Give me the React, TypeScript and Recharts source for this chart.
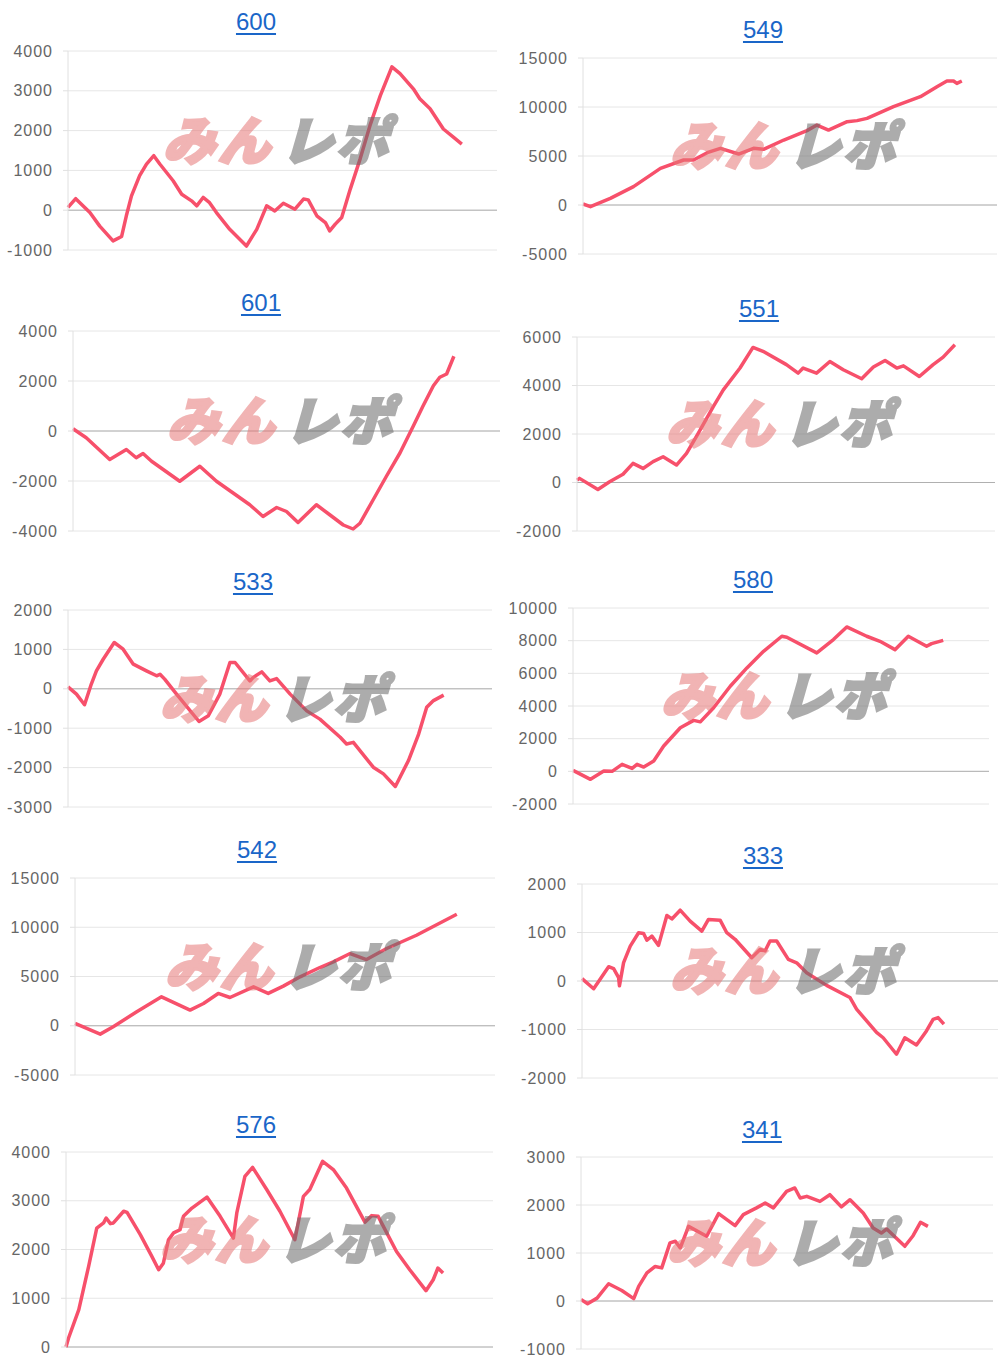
import React from 'react';
import { LineChart, Line, XAxis, YAxis, CartesianGrid, ReferenceLine } from 'recharts';

// ---- titles ----
const titles = ['600', '549', '601', '551', '533', '580', '542', '333', '576', '341'];

// ---- series (x = progress % of axis width, y = value) ----
const x600 = [0, 1.8, 5.1, 7.4, 10.5, 12.5, 13.6, 14.8, 16.7, 18.3, 20, 21.4, 24.5, 26.5, 28.8, 30, 31.5, 33, 34.6, 37.7, 41.6, 44, 46.3, 48.2, 50.2, 52.9, 54.9, 56, 58, 60, 61, 62.3, 63.8, 65.8, 68.1, 70.4, 72.8, 75.5, 77.4, 80.5, 82, 84.4, 87.5, 89.9, 91.8];
const y600 = [70, 290, -60, -400, -770, -660, -140, 360, 870, 1160, 1370, 1160, 740, 400, 235, 110, 320, 190, -60, -480, -900, -480, 110, -20, 175, 25, 280, 260, -140, -310, -520, -350, -185, 530, 1290, 2130, 2880, 3600, 3430, 3050, 2800, 2550, 2040, 1830, 1660];

const x549 = [0, 1.8, 6.6, 12.2, 18.7, 24.3, 26.7, 30, 33.2, 37.6, 41.2, 43.6, 48.5, 54.1, 56.5, 59.3, 63.8, 66.2, 68.6, 75, 81.5, 85.5, 87.9, 89.5, 90.3, 91.5];
const y549 = [100, -170, 680, 1870, 3740, 4590, 4590, 5340, 5780, 5200, 5780, 5680, 6630, 7590, 8160, 7650, 8500, 8610, 8840, 10030, 11050, 12070, 12650, 12650, 12410, 12650];

const x601 = [0, 3.1, 8.6, 12.5, 14.8, 16.4, 18.4, 25, 29.7, 33.6, 37.5, 41.4, 44.5, 47.7, 50, 52.7, 57, 60.2, 63.3, 65.6, 67.2, 70.3, 73.4, 76.6, 79.7, 82, 84.4, 85.9, 87.5, 89.2];
const y601 = [90, -270, -1140, -740, -1070, -900, -1210, -2010, -1410, -2010, -2480, -2950, -3420, -3060, -3220, -3660, -2950, -3360, -3760, -3920, -3690, -2750, -1810, -870, 200, 1010, 1810, 2150, 2280, 2990];

const x551 = [0, 0.6, 5, 7.8, 11, 13.4, 15.8, 18.2, 20.6, 23.8, 26.2, 29, 32.6, 35, 39, 42.1, 44.5, 50.1, 52.9, 54.1, 57.3, 60.5, 63.7, 68.1, 70.9, 73.7, 76.5, 78.1, 81.9, 85.2, 87.6, 90.4];
const y551 = [100, 170, -290, 30, 340, 790, 580, 860, 1060, 720, 1200, 2030, 3130, 3820, 4720, 5570, 5410, 4860, 4510, 4720, 4510, 4990, 4650, 4280, 4760, 5030, 4720, 4810, 4370, 4860, 5170, 5680];

const x533 = [0, 2, 3.9, 5.5, 6.7, 8.3, 10.9, 13, 15.4, 18.5, 20.9, 21.7, 22.8, 25.6, 30.9, 33.1, 35.8, 38.2, 39.4, 42.9, 43.7, 45.7, 47.6, 49.2, 52.4, 56.3, 59.4, 64.2, 65.7, 67.3, 72, 74.4, 77.2, 80.3, 82.7, 84.6, 86.2, 88.6];
const y533 = [50, -135, -405, 120, 456, 750, 1175, 1005, 625, 456, 330, 370, 245, -135, -830, -685, -135, 667, 667, 200, 290, 430, 200, 260, -135, -560, -770, -1230, -1400, -1360, -1990, -2160, -2480, -1820, -1150, -470, -300, -160];

const x580 = [0, 4.2, 7.4, 9.4, 11.8, 14.2, 15.4, 17, 19.4, 21.8, 25.8, 29, 30.6, 33.8, 37.8, 41.8, 45.8, 50.2, 51.4, 58.6, 62.6, 65.8, 70.6, 73.8, 77.4, 80.6, 85, 86.2, 89];
const y580 = [60, -490, 20, 0, 430, 180, 430, 260, 630, 1550, 2670, 3120, 3030, 3890, 5210, 6330, 7350, 8270, 8210, 7250, 8070, 8840, 8270, 7960, 7450, 8270, 7660, 7820, 8020];

const x542 = [0, 6, 9.1, 14.7, 20.6, 27.4, 30.6, 34.1, 36.9, 42.5, 46, 49.6, 53.6, 58.3, 61.5, 65.5, 69.4, 74.2, 81.3, 90.9];
const y542 = [240, -850, -100, 1420, 2940, 1590, 2260, 3280, 2870, 3950, 3280, 4020, 4970, 5910, 6490, 7330, 6720, 7840, 9190, 11320];

const x333 = [0, 2.8, 6.4, 7.6, 8.8, 9, 10, 11.6, 13.6, 14.8, 15.6, 16.8, 18.4, 20.4, 21.6, 23.6, 26, 28.8, 30.4, 33.2, 34.8, 36.8, 40.8, 42.8, 44, 45.2, 46.8, 49.6, 51.6, 54, 58.8, 64.4, 66, 70.8, 72.4, 75.6, 77.6, 80.4, 82.8, 84.4, 85.6, 87];
const y333 = [50, -160, 295, 255, 70, -100, 380, 720, 995, 980, 840, 925, 735, 1350, 1280, 1460, 1235, 1030, 1270, 1255, 995, 860, 480, 650, 620, 825, 825, 445, 375, 170, -90, -340, -580, -1060, -1170, -1510, -1170, -1320, -1030, -790, -755, -890];

const x576 = [0, 0.6, 3, 5.3, 7.2, 8.8, 9.4, 10.4, 11.1, 13.5, 14.3, 17.4, 20.1, 21.7, 22.8, 24, 25.2, 26.7, 27.5, 29.5, 33, 36.1, 39.2, 40, 41.9, 43.7, 47, 50.1, 53.6, 55.6, 57.1, 60.1, 62.6, 65.7, 70, 71.6, 73.1, 77.4, 80.5, 84.3, 86, 87.1, 88.3];
const y576 = [0, 185, 765, 1655, 2440, 2545, 2645, 2530, 2545, 2785, 2760, 2305, 1860, 1585, 1720, 2200, 2340, 2405, 2680, 2850, 3075, 2680, 2235, 2750, 3500, 3685, 3230, 2785, 2200, 3090, 3230, 3810, 3640, 3260, 2560, 2695, 2680, 1960, 1585, 1155, 1380, 1620, 1520];

const x341 = [0, 1.6, 3.9, 6.7, 9.9, 12.8, 14, 16, 18, 19.6, 21.6, 22.9, 24.1, 26.1, 30.5, 33.4, 37.4, 39.4, 42.6, 44.7, 46.7, 49.9, 51.9, 53.2, 54.8, 58, 60.4, 63.2, 65.3, 68.5, 70.9, 72.9, 74.2, 78.6, 80.6, 82.4, 84.2];
const y341 = [30, -55, 60, 360, 220, 50, 305, 585, 720, 690, 1210, 1245, 1105, 1555, 1350, 1820, 1570, 1800, 1940, 2040, 1940, 2285, 2355, 2145, 2180, 2075, 2215, 1960, 2110, 1835, 1520, 1415, 1500, 1140, 1360, 1640, 1555];

// ---- y tick labels ----
const ticks600 = [-1000, 0, 1000, 2000, 3000, 4000];
const ticks549 = [-5000, 0, 5000, 10000, 15000];
const ticks601 = [-4000, -2000, 0, 2000, 4000];
const ticks551 = [-2000, 0, 2000, 4000, 6000];
const ticks533 = [-3000, -2000, -1000, 0, 1000, 2000];
const ticks580 = [-2000, 0, 2000, 4000, 6000, 8000, 10000];
const ticks542 = [-5000, 0, 5000, 10000, 15000];
const ticks333 = [-2000, -1000, 0, 1000, 2000];
const ticks576 = [0, 1000, 2000, 3000, 4000];
const ticks341 = [-1000, 0, 1000, 2000, 3000];

// ---- layout (plot box in page pixels, title centre) ----
const layouts = [
  { l: 68, r: 497, t: 51, b: 250, tx: 256, ty: 22 },
  { l: 583, r: 997, t: 58, b: 254, tx: 763, ty: 30 },
  { l: 73, r: 500, t: 331, b: 531, tx: 261, ty: 303 },
  { l: 577, r: 995, t: 337, b: 531, tx: 759, ty: 309 },
  { l: 68, r: 492, t: 610, b: 807, tx: 253, ty: 582 },
  { l: 573, r: 989, t: 608, b: 804, tx: 753, ty: 580 },
  { l: 75, r: 495, t: 878, b: 1075, tx: 257, ty: 850 },
  { l: 582, r: 998, t: 884, b: 1078, tx: 763, ty: 856 },
  { l: 66, r: 493, t: 1152, b: 1347, tx: 256, ty: 1125 },
  { l: 581, r: 993, t: 1157, b: 1349, tx: 762, ty: 1130 },
];

const seriesX = [x600, x549, x601, x551, x533, x580, x542, x333, x576, x341];
const seriesY = [y600, y549, y601, y551, y533, y580, y542, y333, y576, y341];
const tickSets = [ticks600, ticks549, ticks601, ticks551, ticks533, ticks580, ticks542, ticks333, ticks576, ticks341];

const FONT = '"Liberation Sans", Arial, Helvetica, sans-serif';

function Panel({ idx }: { idx: number }) {
  const lay = layouts[idx];
  const xs = seriesX[idx];
  const ys = seriesY[idx];
  const ticks = tickSets[idx];
  const data = xs.map((x, i) => ({ x, v: ys[i] }));
  const yw = 75;
  const mt = 12;
  const mb = 12;
  const mr = 2;
  const width = lay.r - lay.l + yw + mr;
  const height = lay.b - lay.t + mt + mb;
  const cx = (lay.l + lay.r) / 2;
  const cy = (lay.t + lay.b) / 2 - 13;
  return (
    <>
      <div
        style={{
          position: 'absolute',
          left: lay.tx - 60,
          width: 120,
          top: lay.ty - 15,
          height: 30,
          lineHeight: '30px',
          textAlign: 'center',
          fontFamily: FONT,
          fontSize: 24,
          color: '#1a66c8',
          textDecoration: 'underline',
          textUnderlineOffset: 3,
        }}
      >
        {titles[idx]}
      </div>
      <div style={{ position: 'absolute', left: lay.l - yw, top: lay.t - mt }}>
        <LineChart width={width} height={height} data={data} margin={{ top: mt, right: mr, bottom: mb, left: 0 }}>
          <CartesianGrid vertical={false} stroke="#e6e6e6" />
          <XAxis type="number" dataKey="x" domain={[0, 100]} hide />
          <YAxis
            type="number"
            domain={[ticks[0], ticks[ticks.length - 1]]}
            ticks={ticks}
            interval={0}
            width={yw}
            axisLine={{ stroke: '#e0e0e0' }}
            tickLine={{ stroke: '#e0e0e0' }}
            tickSize={5}
            tickMargin={10}
            tick={{ fill: '#666', fontSize: 16, fontFamily: FONT, letterSpacing: 1 }}
          />
          <ReferenceLine y={0} stroke="#b0b0b0" />
          <Line type="linear" dataKey="v" stroke="#f7506b" strokeWidth={3.5} strokeLinejoin="round" dot={false} isAnimationActive={false} />
        </LineChart>
      </div>
      <div
        style={{
          position: 'absolute',
          left: cx - 135,
          top: cy - 32,
          width: 270,
          height: 64,
          display: 'flex',
          alignItems: 'center',
          justifyContent: 'center',
          pointerEvents: 'none',
          fontFamily: '"Noto Sans CJK JP", sans-serif',
          fontWeight: 900,
          fontSize: 52,
          lineHeight: '64px',
          whiteSpace: 'nowrap',
          transform: 'skewX(-16deg)',
          letterSpacing: 3,
          opacity: 0.55,
        }}
      >
        <span style={{ color: '#e77777', WebkitTextStroke: '3px #e77777' }}>みん</span>
        <span style={{ color: '#6a6a6a', WebkitTextStroke: '3px #6a6a6a', marginLeft: 8 }}>レポ</span>
      </div>
    </>
  );
}

export default function App() {
  return (
    <div style={{ position: 'absolute', left: 0, top: 0, width: 1000, height: 1370, background: '#fff', overflow: 'hidden' }}>
      {titles.map((_, i) => (
        <Panel key={i} idx={i} />
      ))}
    </div>
  );
}
